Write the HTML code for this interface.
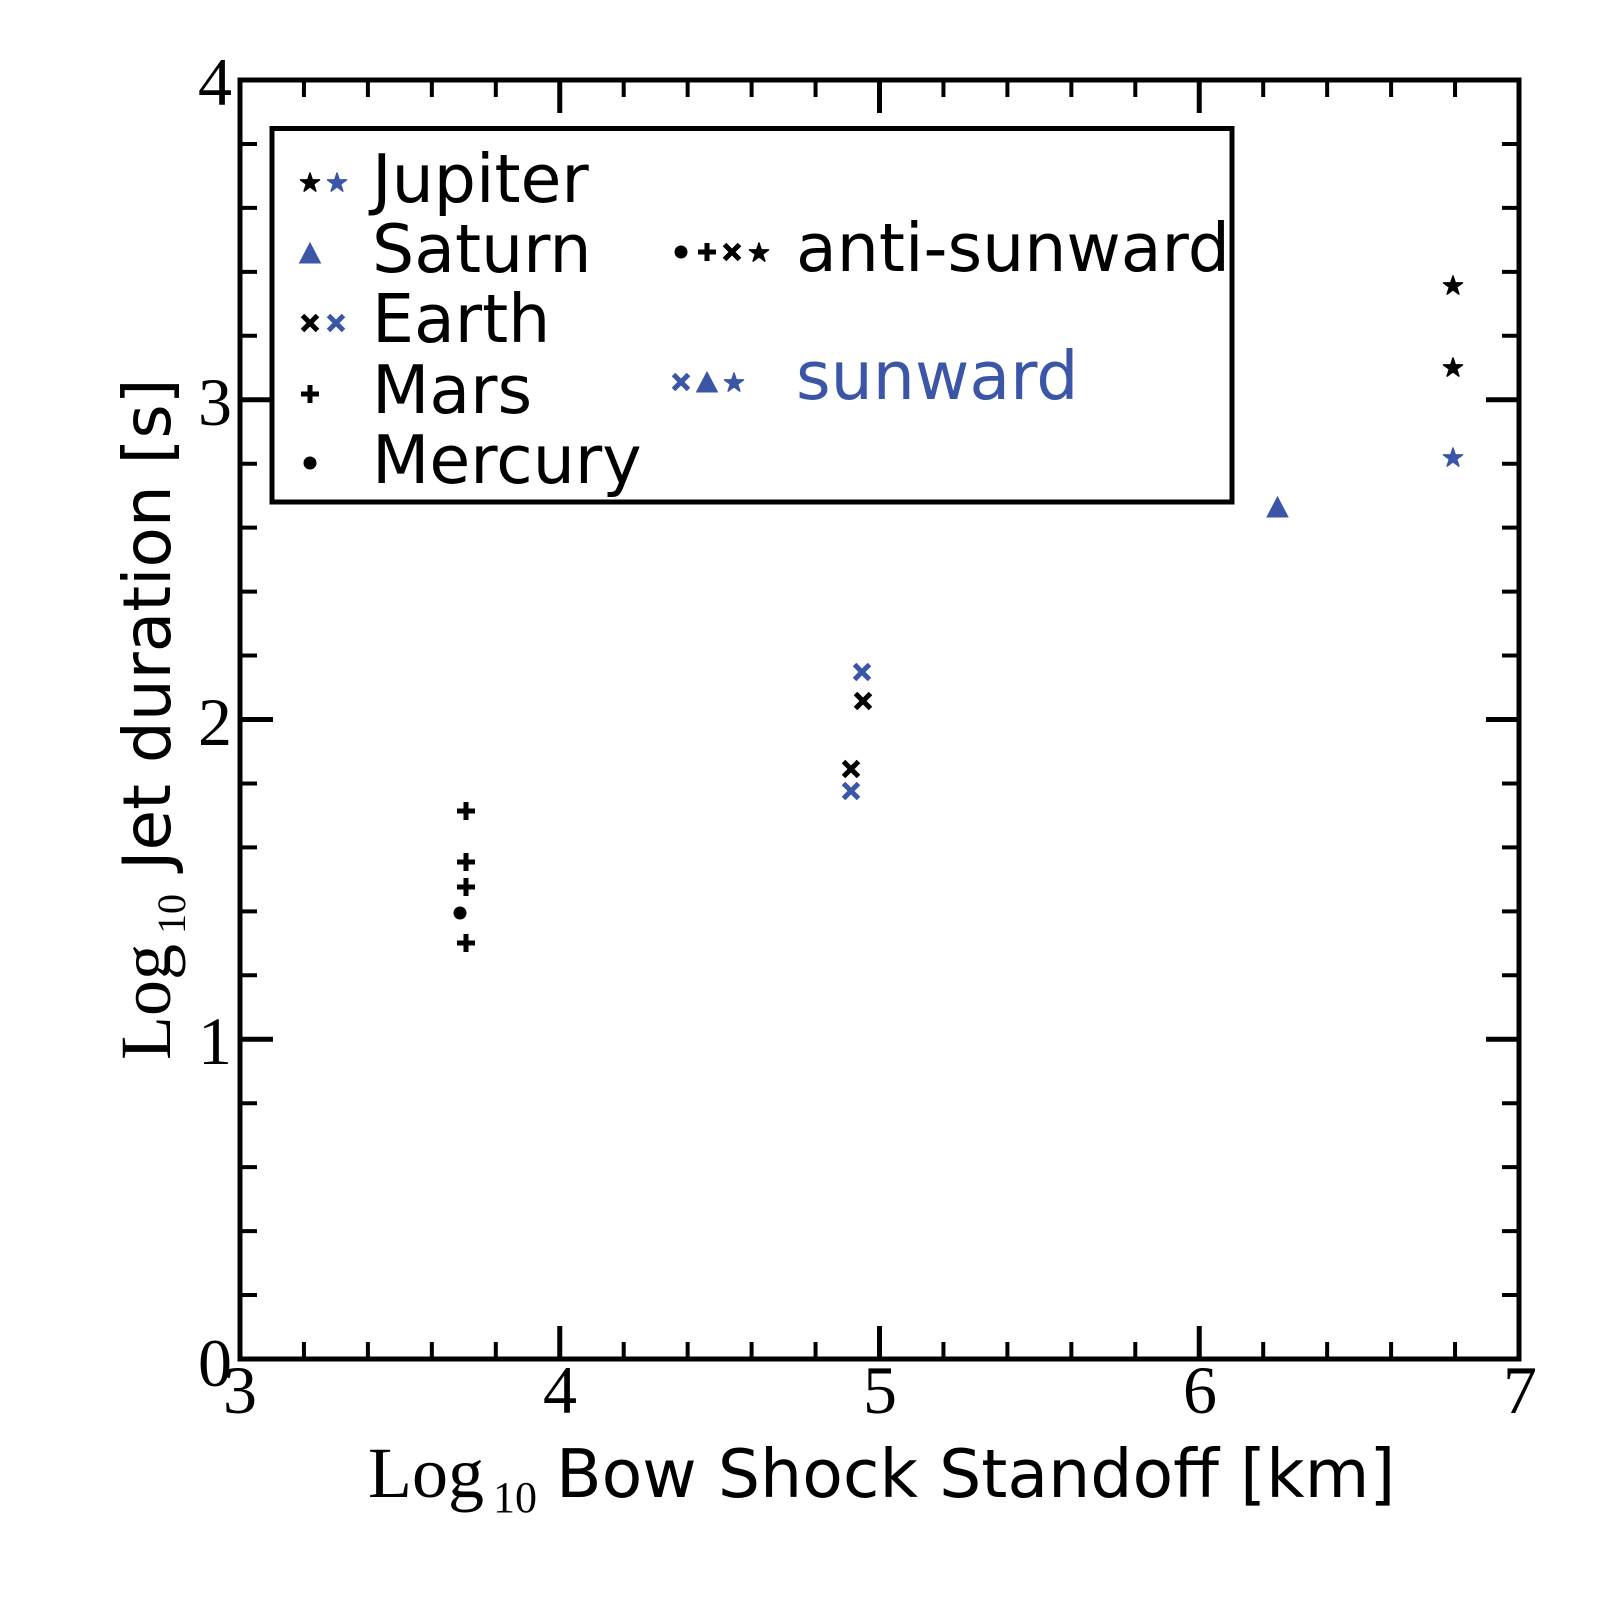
<!DOCTYPE html>
<html>
<head>
<meta charset="utf-8">
<style>
  html, body { margin: 0; padding: 0; background: #ffffff; }
  svg { display: block; }
  .tick { font-family: "Liberation Serif", serif; font-size: 68px; fill: #000; }
  .serif { font-family: "Liberation Serif", serif; }
  .sans { font-family: "DejaVu Sans", "Liberation Sans", sans-serif; }
</style>
</head>
<body>
<svg width="1600" height="1600" viewBox="0 0 1600 1600" xmlns="http://www.w3.org/2000/svg">
  <defs>
    <path id="star" d="M0 -10 L2.245 -3.09 L9.511 -3.09 L3.633 1.18 L5.878 8.09 L0 3.82 L-5.878 8.09 L-3.633 1.18 L-9.511 -3.09 L-2.245 -3.09 Z" stroke-width="1.5" stroke-linejoin="round"/>
    <path id="plus" d="M-9 0H9M0 -9V9" fill="none" stroke-width="5"/>
    <path id="cross" d="M-7.5 -7.5L7.5 7.5M-7.5 7.5L7.5 -7.5" fill="none" stroke-width="5"/>
    <path id="tri" d="M0 -10 L10.5 10 L-10.5 10 Z"/>
    <circle id="dot" cx="0" cy="0" r="6"/>
  </defs>

  <rect x="0" y="0" width="1600" height="1600" fill="#fff"/>

  <!-- ticks -->
  <g stroke="#000" fill="none">
    <path stroke-width="5" d="
      M559.75 1359V1326 M879.5 1359V1326 M1199.25 1359V1326
      M559.75 80V113 M879.5 80V113 M1199.25 80V113
      M240 1039.25H273 M240 719.5H273 M240 399.75H273
      M1519 1039.25H1486 M1519 719.5H1486 M1519 399.75H1486"/>
    <path stroke-width="4" d="
      M303.95 1359V1342 M367.9 1359V1342 M431.85 1359V1342 M495.8 1359V1342
      M623.7 1359V1342 M687.65 1359V1342 M751.6 1359V1342 M815.55 1359V1342
      M943.45 1359V1342 M1007.4 1359V1342 M1071.35 1359V1342 M1135.3 1359V1342
      M1263.2 1359V1342 M1327.15 1359V1342 M1391.1 1359V1342 M1455.05 1359V1342
      M303.95 80V97 M367.9 80V97 M431.85 80V97 M495.8 80V97
      M623.7 80V97 M687.65 80V97 M751.6 80V97 M815.55 80V97
      M943.45 80V97 M1007.4 80V97 M1071.35 80V97 M1135.3 80V97
      M1263.2 80V97 M1327.15 80V97 M1391.1 80V97 M1455.05 80V97
      M240 1295.05H257 M240 1231.1H257 M240 1167.15H257 M240 1103.2H257
      M240 975.3H257 M240 911.35H257 M240 847.4H257 M240 783.45H257
      M240 655.55H257 M240 591.6H257 M240 527.65H257 M240 463.7H257
      M240 335.8H257 M240 271.85H257 M240 207.9H257 M240 143.95H257
      M1519 1295.05H1502 M1519 1231.1H1502 M1519 1167.15H1502 M1519 1103.2H1502
      M1519 975.3H1502 M1519 911.35H1502 M1519 847.4H1502 M1519 783.45H1502
      M1519 655.55H1502 M1519 591.6H1502 M1519 527.65H1502 M1519 463.7H1502
      M1519 335.8H1502 M1519 271.85H1502 M1519 207.9H1502 M1519 143.95H1502"/>
  </g>

  <!-- spines -->
  <rect x="240" y="80" width="1279" height="1279" fill="none" stroke="#000" stroke-width="5"/>

  <!-- data -->
  <g stroke="#000" fill="#000">
    <use href="#plus" x="466" y="811"/>
    <use href="#plus" x="466" y="862"/>
    <use href="#plus" x="466" y="887"/>
    <use href="#plus" x="466" y="943"/>
    <use href="#dot" x="460" y="913"/>
    <use href="#cross" x="863" y="701"/>
    <use href="#cross" x="851" y="769"/>
    <use href="#star" x="1453" y="286"/>
    <use href="#star" x="1453" y="368"/>
  </g>
  <g stroke="#3b56a6" fill="#3b56a6">
    <use href="#cross" x="862" y="672"/>
    <use href="#cross" x="851" y="791"/>
    <use href="#star" x="1453" y="458"/>
    <use href="#tri" x="1277.5" y="507"/>
  </g>

  <!-- legend -->
  <rect x="272" y="128.5" width="960" height="373.5" fill="#fff" stroke="#000" stroke-width="5"/>
  <g stroke="#000" fill="#000">
    <use href="#star" x="310" y="183"/>
    <use href="#cross" x="310" y="323"/>
    <use href="#plus" x="310" y="394"/>
    <use href="#dot" x="310" y="463"/>
    <use href="#dot" x="681" y="252"/>
    <use href="#plus" x="707" y="252"/>
    <use href="#cross" x="732" y="252"/>
    <use href="#star" x="759" y="253"/>
  </g>
  <g stroke="#3b56a6" fill="#3b56a6">
    <use href="#star" x="337" y="183"/>
    <use href="#tri" x="310" y="253"/>
    <use href="#cross" x="336" y="323"/>
    <use href="#cross" x="681" y="382"/>
    <use href="#tri" x="707" y="382"/>
    <use href="#star" x="734" y="383"/>
  </g>
  <g class="sans" font-size="66.5" fill="#000">
    <text x="372" y="202">Jupiter</text>
    <text x="372" y="272">Saturn</text>
    <text x="372" y="342">Earth</text>
    <text x="372" y="413">Mars</text>
    <text x="372" y="483">Mercury</text>
    <text x="796" y="271">anti-sunward</text>
    <text x="796" y="399" fill="#3b56a6">sunward</text>
  </g>

  <!-- tick labels -->
  <g class="tick" text-anchor="middle">
    <text x="240" y="1413">3</text>
    <text x="560" y="1413">4</text>
    <text x="880" y="1413">5</text>
    <text x="1200" y="1413">6</text>
    <text x="1520" y="1413">7</text>
  </g>
  <g class="tick" text-anchor="end">
    <text x="232" y="1386">0</text>
    <text x="232" y="1064">1</text>
    <text x="232" y="745">2</text>
    <text x="232" y="425">3</text>
    <text x="232" y="105">4</text>
  </g>

  <!-- x label -->
  <text y="1497" fill="#000"><tspan class="serif" x="368" font-size="72">Log</tspan><tspan class="serif" x="493" dy="15" font-size="44">10</tspan><tspan class="sans" x="556" dy="-15" font-size="66.5">Bow Shock Standoff [km]</tspan></text>

  <!-- y label -->
  <g transform="translate(170,1060) rotate(-90)">
    <text y="0" fill="#000"><tspan class="serif" x="0" font-size="72">Log</tspan><tspan class="serif" x="126" dy="15" font-size="40">10</tspan><tspan class="sans" x="190" dy="-15" font-size="66">Jet duration [s]</tspan></text>
  </g>
</svg>
</body>
</html>
